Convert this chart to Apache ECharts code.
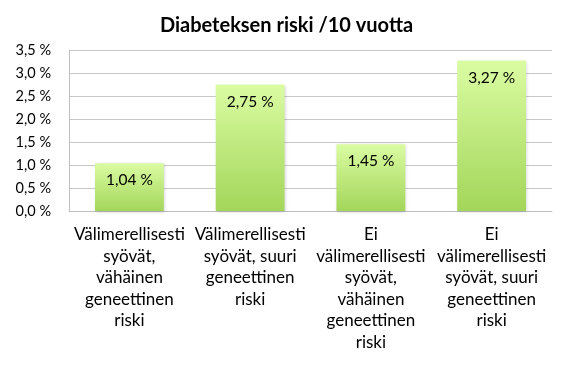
<!DOCTYPE html>
<html><head><meta charset="utf-8">
<script src="https://cdn.jsdelivr.net/npm/echarts@6/dist/echarts.min.js"></script>
<style>html,body{margin:0;padding:0;background:#fff}#c{width:573px;height:365px}</style>
</head><body><div id="c"></div>
<script>
var title = 'Diabeteksen riski /10 vuotta';
var categories = [
  'Välimerellisesti\nsyövät,\nvähäinen\ngeneettinen\nriski',
  'Välimerellisesti\nsyövät, suuri\ngeneettinen\nriski',
  'Ei\nvälimerellisesti\nsyövät,\nvähäinen\ngeneettinen\nriski',
  'Ei\nvälimerellisesti\nsyövät, suuri\ngeneettinen\nriski'
];
var values = [1.04, 2.75, 1.45, 3.27];
var yTicks = [0, 0.5, 1, 1.5, 2, 2.5, 3, 3.5];
function fmt(v, d){ return v.toFixed(d).replace('.', ',') + ' %'; }
var FONT = 'Lato';
var chart = echarts.init(document.getElementById('c'));
chart.setOption({
  animation: false,
  title: { text: title, left: 'center', top: 11,
    textStyle: { fontFamily: FONT, fontWeight: 'bold', fontSize: 20, color: '#000' } },
  grid: { left: 69, right: 21, top: 50, bottom: 154, containLabel: false },
  xAxis: {
    type: 'category', data: categories,
    axisLine: { show: true, lineStyle: { color: '#bfbfbf', width: 1 } },
    axisTick: { show: false },
    axisLabel: { interval: 0, fontFamily: FONT, fontSize: 17, color: '#000', lineHeight: 21.5, margin: 13 }
  },
  yAxis: {
    type: 'value', min: 0, max: 3.5, interval: 0.5,
    axisLine: { show: true, lineStyle: { color: '#bfbfbf', width: 1 } },
    axisTick: { show: false },
    splitLine: { lineStyle: { color: '#c8c8c8', width: 1 } },
    axisLabel: { fontFamily: FONT, fontSize: 14.5, color: '#000', margin: 18,
      formatter: function(v){ return fmt(v, 1); } }
  },
  series: [{
    type: 'bar', data: values, barWidth: '57%',
    itemStyle: {
      color: new echarts.graphic.LinearGradient(0, 0, 0, 1, [
        { offset: 0, color: '#dafca2' },
        { offset: 1, color: '#a3d65a' }
      ]),
      shadowColor: 'rgba(0,0,0,0.18)', shadowBlur: 3, shadowOffsetX: 1, shadowOffsetY: 1
    },
    label: { show: true, position: 'insideTop', distance: 9,
      fontFamily: FONT, fontSize: 15.5, color: '#000',
      formatter: function(p){ return fmt(p.value, 2); } }
  }]
});
</script></body></html>
